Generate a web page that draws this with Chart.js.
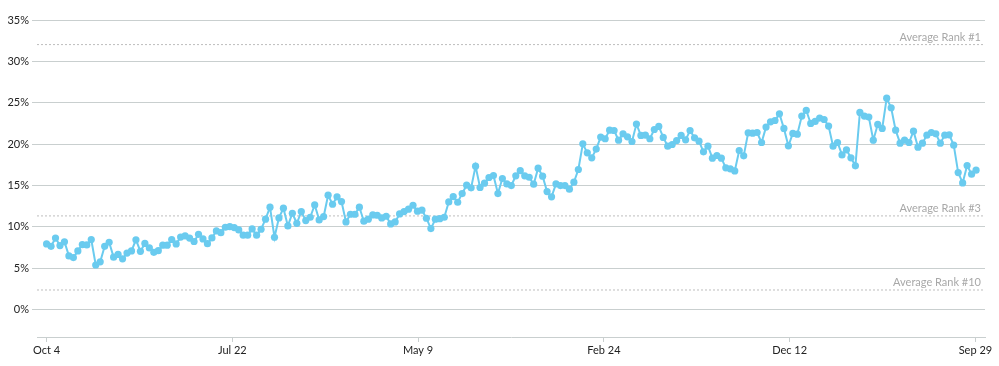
<!DOCTYPE html>
<html>
<head>
<meta charset="utf-8">
<script src="https://cdn.jsdelivr.net/npm/chart.js@4.4.1/dist/chart.umd.min.js"></script>
<style>
  body { margin: 0; background: #fff; }
  #wrap { width: 999px; height: 366px; position: relative; }
</style>
</head>
<body>
<div id="wrap"><canvas id="rankChart"></canvas></div>
<script>
// weekly share, first week = Oct 4
const shareValues = [
  7.95, 7.66, 8.65, 7.75, 8.2, 6.5, 6.3, 7.1, 7.87, 7.83, 8.48, 5.4, 5.78, 7.66, 8.15, 6.35, 6.68, 6.15, 6.84, 7.1,
  8.44, 7.05, 8.0, 7.46, 6.93, 7.13, 7.79, 7.79, 8.48, 7.95, 8.77, 8.93, 8.65, 8.24, 9.1,
  8.55, 7.98, 8.67, 9.52, 9.31, 9.96, 10.04, 9.92, 9.64, 9.0, 9.0, 9.76, 9.0, 9.72, 10.93, 12.38, 8.75, 11.09, 12.26, 10.12,
  11.65, 10.44, 11.85, 10.77, 11.17, 12.66, 10.85, 11.25, 13.83, 12.74, 13.63, 13.06, 10.6, 11.53, 11.53, 12.38,
  10.69, 10.93, 11.45, 11.41, 11.09, 11.29, 10.36, 10.6, 11.57, 11.85, 12.14, 12.62, 11.9, 12.02, 11.05, 9.8, 10.93, 11.0,
  11.17, 13.02, 13.67, 12.98, 14.03, 15.04, 14.72, 17.34, 14.76, 15.28, 15.97, 16.21, 14.03, 15.85, 15.2, 15.0, 16.17, 16.8,
  16.17, 16.0, 15.16, 17.1, 16.13, 14.27, 13.63, 15.2, 15.0, 15.0, 14.56, 15.4, 16.94, 20.04, 18.95, 18.35, 19.4, 20.85,
  20.65, 21.69, 21.65, 20.48, 21.25, 20.89, 20.32, 22.42, 21.05, 21.09, 20.65, 21.77, 22.14, 20.81, 19.76, 19.96, 20.44, 21.06,
  20.52, 21.65, 20.77, 20.36, 19.07, 19.76, 18.31, 18.63, 18.31, 17.14, 17.02, 16.77, 19.23, 18.59, 21.37, 21.33, 21.41, 20.2,
  22.06, 22.7, 22.86, 23.67, 21.9, 19.8, 21.29, 21.21, 23.39, 24.07, 22.5, 22.74, 23.15, 22.98, 22.18, 19.76, 20.2, 18.7,
  19.31, 18.35, 17.38, 23.83, 23.39, 23.27, 20.48, 22.38, 21.9, 25.56, 24.4, 21.69, 20.12, 20.48, 20.2, 21.57, 19.64, 20.12,
  21.09, 21.41, 21.25, 20.12, 21.09, 21.13, 19.88, 16.57, 15.32, 17.42, 16.37, 16.85
];

// days since Oct 4 for each weekly point
const dayOffsets = shareValues.map((v, i) => i * 7);

const tickLabels = ['Oct 4', 'Jul 22', 'May 9', 'Feb 24', 'Dec 12', 'Sep 29'];
const tickDays = [0, 291, 582, 873, 1164, 1455];

const yTicks = [0, 5, 10, 15, 20, 25, 30, 35];

const avgRankNames = ['Average Rank #1', 'Average Rank #3', 'Average Rank #10'];
const avgRankValues = [32.03, 11.33, 2.38];

const X_MIN = -15;
const X_MAX = 1470;

const gridColor = '#c9cfcf';

const seriesData = shareValues.map((v, i) => ({ x: dayOffsets[i], y: v }));

const refDatasets = avgRankValues.map((v, i) => ({
  label: avgRankNames[i],
  data: [{ x: X_MIN, y: v }, { x: X_MAX, y: v }],
  borderColor: '#bdbdbd',
  borderWidth: 1,
  borderDash: [2, 2],
  pointRadius: 0,
  order: 2,
}));

// writes the "Average Rank" names above their dashed lines
const rankLabels = {
  id: 'rankLabels',
  afterDatasetsDraw(chart) {
    const ctx = chart.ctx;
    const yScale = chart.scales.y;
    const right = chart.chartArea.right;
    ctx.save();
    ctx.font = '11px Lato';
    ctx.fillStyle = '#a8a8a8';
    ctx.textAlign = 'right';
    ctx.textBaseline = 'alphabetic';
    avgRankValues.forEach((v, i) => {
      ctx.fillText(avgRankNames[i], right - 4, yScale.getPixelForValue(v) - 3.5);
    });
    ctx.restore();
  }
};

const ctx = document.getElementById('rankChart').getContext('2d');

new Chart(ctx, {
  type: 'line',
  data: {
    datasets: [
      {
        label: 'Share',
        data: seriesData,
        borderColor: '#6acbef',
        backgroundColor: '#6acbef',
        borderWidth: 2,
        pointRadius: 3.6,
        pointBorderWidth: 0,
        tension: 0,
        order: 1,
      },
      ...refDatasets
    ]
  },
  options: {
    responsive: true,
    maintainAspectRatio: false,
    animation: false,
    layout: { padding: { top: 20, right: 14, left: 0, bottom: 0 } },
    plugins: {
      legend: { display: false },
      tooltip: { enabled: false },
    },
    scales: {
      x: {
        type: 'linear',
        min: X_MIN,
        max: X_MAX,
        afterBuildTicks: (axis) => { axis.ticks = tickDays.map(d => ({ value: d })); },
        afterFit: (axis) => { axis.height = 29; },
        grid: {
          drawOnChartArea: false,
          drawTicks: true,
          tickLength: 5,
          color: gridColor,
        },
        border: { display: true, color: gridColor, width: 1 },
        ticks: {
          autoSkip: false,
          maxRotation: 0,
          padding: 2,
          color: '#222',
          font: { family: 'Lato', size: 11 },
          callback: (value) => tickLabels[tickDays.indexOf(value)],
        },
      },
      y: {
        min: -3.3,
        max: 35,
        afterBuildTicks: (axis) => { axis.ticks = yTicks.map(v => ({ value: v })); },
        afterFit: (axis) => { axis.width = 37; },
        grid: {
          color: gridColor,
          tickLength: 5,
          drawTicks: true,
        },
        border: { display: false },
        ticks: {
          padding: 3,
          color: '#222',
          font: { family: 'Lato', size: 11 },
          callback: (value) => value + '%',
        },
      },
    },
  },
  plugins: [rankLabels],
});
</script>
</body>
</html>
